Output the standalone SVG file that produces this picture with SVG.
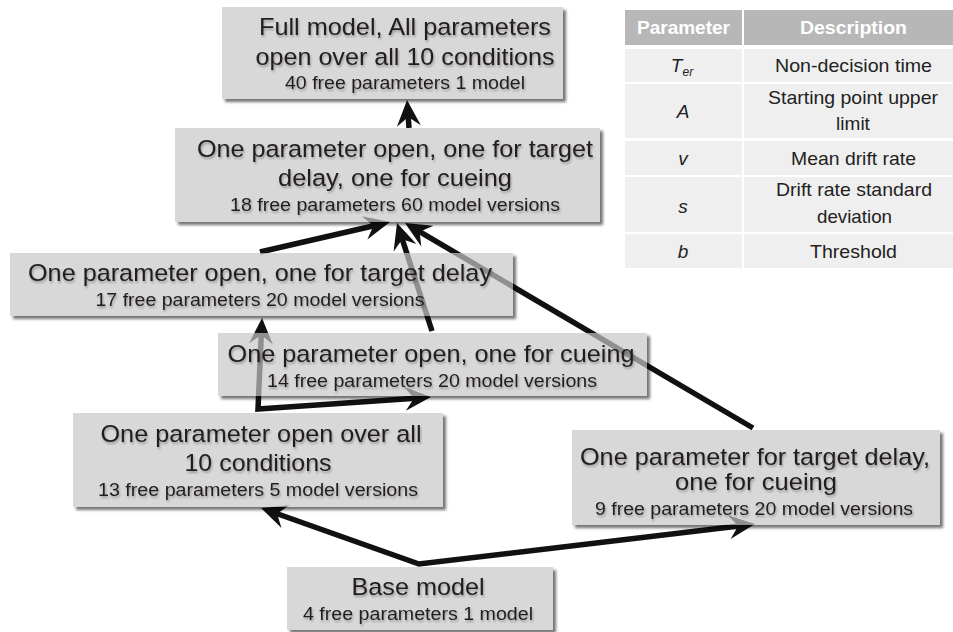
<svg xmlns="http://www.w3.org/2000/svg" width="953" height="632" viewBox="0 0 953 632">
  <defs>
    <style>
      .box { fill: rgb(199,199,199); filter: url(#boxfx); }
      .big { font-family: "Liberation Sans", Arial, sans-serif; font-size: 24.5px; fill: #231f20; text-anchor: middle; }
      .small { font-family: "Liberation Sans", Arial, sans-serif; font-size: 17.5px; fill: #231f20; text-anchor: middle; }
      .label { filter: url(#textfx); }
      .conn { fill: none; stroke: #111; stroke-width: 5.5; stroke-linejoin: miter; }
      .th { fill: #b7b7b7; }
      .td { fill: #efefef; }
      .thtext { font-family: "Liberation Sans", Arial, sans-serif; font-size: 18.5px; font-weight: bold; fill: #ffffff; text-anchor: middle; }
      .tdtext { font-family: "Liberation Sans", Arial, sans-serif; font-size: 19px; fill: #222; text-anchor: middle; }
      .sym { font-style: italic; }
    </style>
    <!-- translucent box with a soft shadow kept outside its edges -->
    <filter id="boxfx" x="-5%" y="-10%" width="115%" height="130%">
      <feGaussianBlur in="SourceAlpha" stdDeviation="1.4" result="blur"/>
      <feOffset in="blur" dx="2.5" dy="2.5" result="off"/>
      <feComposite in="off" in2="SourceAlpha" operator="out" result="sh"/>
      <feComponentTransfer in="sh" result="sh2"><feFuncA type="linear" slope="0.55"/></feComponentTransfer>
      <feComponentTransfer in="SourceGraphic" result="fill"><feFuncA type="linear" slope="0.7"/></feComponentTransfer>
      <feMerge><feMergeNode in="sh2"/><feMergeNode in="fill"/></feMerge>
    </filter>
    <filter id="textfx" x="-5%" y="-20%" width="110%" height="150%">
      <feGaussianBlur in="SourceAlpha" stdDeviation="1" result="b"/>
      <feOffset in="b" dx="1" dy="1.5" result="o"/>
      <feComponentTransfer in="o" result="o2"><feFuncA type="linear" slope="0.3"/></feComponentTransfer>
      <feMerge><feMergeNode in="o2"/><feMergeNode in="SourceGraphic"/></feMerge>
    </filter>
    <marker id="head" viewBox="-28 -14 30 28" refX="-12" refY="0" markerWidth="30" markerHeight="28" markerUnits="userSpaceOnUse" orient="auto-start-reverse">
      <path d="M0,0 L-26,-12 L-17,0 L-26,12 Z" fill="#111"/>
    </marker>
  </defs>

  <rect width="953" height="632" fill="#ffffff"/>

  <!-- connectors sit under the translucent boxes -->
  <g id="connectors">
    <path class="conn" d="M409,128 L407.9,112" marker-end="url(#head)"/>
    <path class="conn" d="M260,252 L378.3,224.7" marker-end="url(#head)"/>
    <path class="conn" d="M432,331 L400.7,234.4" marker-end="url(#head)"/>
    <path class="conn" d="M753,428 L415.3,229.1" marker-end="url(#head)"/>
    <path class="conn" d="M261.5,330 L258,409 L419,397.9" marker-start="url(#head)" marker-end="url(#head)"/>
    <path class="conn" d="M272.3,512 L419,564 L743.1,525.4" marker-start="url(#head)" marker-end="url(#head)"/>
  </g>

  <g id="node-full">
    <rect class="box" x="222" y="7" width="341" height="92"/>
    <g class="label">
      <text class="big" x="405" y="35" textLength="292" lengthAdjust="spacingAndGlyphs">Full model, All parameters</text>
      <text class="big" x="405" y="65" textLength="299" lengthAdjust="spacingAndGlyphs">open over all 10 conditions</text>
      <text class="small" x="405" y="89" textLength="240" lengthAdjust="spacingAndGlyphs">40 free parameters 1 model</text>
    </g>
  </g>

  <g id="node-open-delay-cue">
    <rect class="box" x="175" y="128" width="425" height="94"/>
    <g class="label">
      <text class="big" x="395" y="157" textLength="396" lengthAdjust="spacingAndGlyphs">One parameter open, one for target</text>
      <text class="big" x="395" y="186" textLength="234" lengthAdjust="spacingAndGlyphs">delay, one for cueing</text>
      <text class="small" x="395" y="211" textLength="330" lengthAdjust="spacingAndGlyphs">18 free parameters 60 model versions</text>
    </g>
  </g>

  <g id="node-open-delay">
    <rect class="box" x="10" y="253" width="503" height="63"/>
    <g class="label">
      <text class="big" x="260" y="281" textLength="464" lengthAdjust="spacingAndGlyphs">One parameter open, one for target delay</text>
      <text class="small" x="260" y="306" textLength="329" lengthAdjust="spacingAndGlyphs">17 free parameters 20 model versions</text>
    </g>
  </g>

  <g id="node-open-cue">
    <rect class="box" x="218" y="333" width="429" height="63"/>
    <g class="label">
      <text class="big" x="431" y="362" textLength="407" lengthAdjust="spacingAndGlyphs">One parameter open, one for cueing</text>
      <text class="small" x="432" y="387" textLength="330" lengthAdjust="spacingAndGlyphs">14 free parameters 20 model versions</text>
    </g>
  </g>

  <g id="node-open-all">
    <rect class="box" x="73" y="413" width="370" height="94"/>
    <g class="label">
      <text class="big" x="261" y="442" textLength="321" lengthAdjust="spacingAndGlyphs">One parameter open over all</text>
      <text class="big" x="258" y="471" textLength="147" lengthAdjust="spacingAndGlyphs">10 conditions</text>
      <text class="small" x="258" y="496" textLength="320" lengthAdjust="spacingAndGlyphs">13 free parameters 5 model versions</text>
    </g>
  </g>

  <g id="node-delay-cue">
    <rect class="box" x="572" y="430" width="368" height="95"/>
    <g class="label">
      <text class="big" x="755" y="465" textLength="350" lengthAdjust="spacingAndGlyphs">One parameter for target delay,</text>
      <text class="big" x="756" y="490" textLength="162" lengthAdjust="spacingAndGlyphs">one for cueing</text>
      <text class="small" x="754" y="515" textLength="318" lengthAdjust="spacingAndGlyphs">9 free parameters 20 model versions</text>
    </g>
  </g>

  <g id="node-base">
    <rect class="box" x="287" y="567" width="266" height="63"/>
    <g class="label">
      <text class="big" x="418" y="595" textLength="133" lengthAdjust="spacingAndGlyphs">Base model</text>
      <text class="small" x="418" y="620" textLength="230" lengthAdjust="spacingAndGlyphs">4 free parameters 1 model</text>
    </g>
  </g>

  <!-- parameter legend -->
  <g id="param-table">
    <rect class="th" x="625" y="10" width="117" height="35"/>
    <rect class="th" x="744" y="10" width="209" height="35"/>
    <text class="thtext" x="683.5" y="34" textLength="93" lengthAdjust="spacingAndGlyphs">Parameter</text>
    <text class="thtext" x="853.5" y="34" textLength="107" lengthAdjust="spacingAndGlyphs">Description</text>

    <rect class="td" x="625" y="49" width="117" height="33"/>
    <rect class="td" x="744" y="49" width="209" height="33"/>
    <text class="tdtext" x="682" y="72"><tspan class="sym">T</tspan><tspan class="sym" font-size="12" dy="4">er</tspan></text>
    <text class="tdtext" x="853.5" y="72" textLength="157" lengthAdjust="spacingAndGlyphs">Non-decision time</text>

    <rect class="td" x="625" y="84" width="117" height="54"/>
    <rect class="td" x="744" y="84" width="209" height="54"/>
    <text class="tdtext sym" x="683" y="118">A</text>
    <text class="tdtext" x="853" y="104" textLength="170" lengthAdjust="spacingAndGlyphs">Starting point upper</text>
    <text class="tdtext" x="853" y="130">limit</text>

    <rect class="td" x="625" y="141" width="117" height="34"/>
    <rect class="td" x="744" y="141" width="209" height="34"/>
    <text class="tdtext sym" x="683" y="165">v</text>
    <text class="tdtext" x="853.5" y="165" textLength="125" lengthAdjust="spacingAndGlyphs">Mean drift rate</text>

    <rect class="td" x="625" y="177" width="117" height="55"/>
    <rect class="td" x="744" y="177" width="209" height="55"/>
    <text class="tdtext sym" x="683" y="213">s</text>
    <text class="tdtext" x="854" y="196" textLength="156" lengthAdjust="spacingAndGlyphs">Drift rate standard</text>
    <text class="tdtext" x="854.5" y="223" textLength="75" lengthAdjust="spacingAndGlyphs">deviation</text>

    <rect class="td" x="625" y="234" width="117" height="34"/>
    <rect class="td" x="744" y="234" width="209" height="34"/>
    <text class="tdtext sym" x="683" y="258">b</text>
    <text class="tdtext" x="853.5" y="258" textLength="87" lengthAdjust="spacingAndGlyphs">Threshold</text>
  </g>
</svg>
